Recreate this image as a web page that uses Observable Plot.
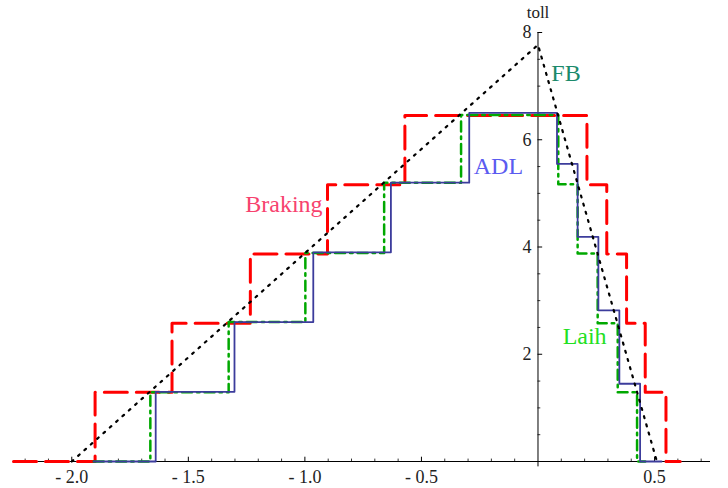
<!DOCTYPE html>
<html>
<head>
<meta charset="utf-8">
<script src="https://cdn.jsdelivr.net/npm/d3@7"></script>
<script src="https://cdn.jsdelivr.net/npm/@observablehq/plot@0.6"></script>
<style>
  html, body { margin: 0; padding: 0; background: #fff; }
</style>
</head>
<body>
<div id="chart"></div>
<script>
// ---- Data ----
// Step series: breakpoints (x) and level held between consecutive breakpoints (y)
const brakingEdges  = [-2.25, -1.90, -1.57, -1.234, -0.903, -0.571, 0.21, 0.295, 0.38, 0.46, 0.549, 0.61];
const brakingLevels = [0, 1.29, 2.58, 3.87, 5.16, 6.45, 5.16, 3.87, 2.58, 1.29, 0];

const laihEdges  = [-1.906, -1.663, -1.327, -0.998, -0.66, -0.33, 0.087, 0.17, 0.256, 0.342, 0.425, 0.46];
const laihLevels = [0, 1.29, 2.6, 3.89, 5.2, 6.46, 5.17, 3.88, 2.58, 1.29, 0];

const adlEdges  = [-1.906, -1.64, -1.302, -0.964, -0.631, -0.295, 0.0815, 0.170, 0.259, 0.349, 0.438, 0.53];
const adlLevels = [0, 1.3, 2.6, 3.9, 5.2, 6.5, 5.55, 4.19, 2.82, 1.45, 0];

// FB: dotted triangle
const fbX = [-2.0, 0, 0.51];
const fbY = [0, 7.77, 0];

// Axis ticks and labels
const xMajor = [-2.0, -1.5, -1.0, -0.5, 0.5];
const xMajorLabels = ["- 2.0", "- 1.5", "- 1.0", "- 0.5", "0.5"];
const xMinor = [-2.2, -2.1, -1.9, -1.8, -1.7, -1.6, -1.4, -1.3, -1.2, -1.1, -0.9, -0.8, -0.7, -0.6, -0.4, -0.3, -0.2, -0.1, 0.1, 0.2, 0.3, 0.4, 0.6, 0.7];
const yMajor = [2, 4, 6, 8];
const yMajorLabels = ["2", "4", "6", "8"];
const yMinor = [0.5, 1, 1.5, 2.5, 3, 3.5, 4.5, 5, 5.5, 6.5, 7, 7.5];

// Series labels
const seriesNames = ["FB", "ADL", "Braking", "Laih"];
const seriesLabelX = [0.12, -0.17, -1.09, 0.2];
const seriesLabelY = [7.23, 5.5, 4.8, 2.34];
const seriesLabelColors = ["#1b8a6b", "#5b5bf0", "#f7426e", "#22e022"];

// ---- Build tables ----
function steps(edges, levels) {
  const pts = levels.map((v, i) => ({x: edges[i], y: v}));
  pts.push({x: edges[edges.length - 1], y: levels[levels.length - 1]});
  return pts;
}
const braking = steps(brakingEdges, brakingLevels);
const laih = steps(laihEdges, laihLevels);
const adl = steps(adlEdges, adlLevels);
const fb = fbX.map((x, i) => ({x, y: fbY[i]}));
const labels = seriesNames.map((t, i) => ({t, x: seriesLabelX[i], y: seriesLabelY[i], c: seriesLabelColors[i]}));
const xTicks = xMajor.map((v, i) => ({v, label: xMajorLabels[i]}));
const yTicks = yMajor.map((v, i) => ({v, label: yMajorLabels[i]}));

const font = "Liberation Serif, Times New Roman, serif";

const chart = Plot.plot({
  width: 728,
  height: 488,
  marginLeft: 13,
  marginRight: 18,
  marginTop: 32,
  marginBottom: 27,
  x: {domain: [-2.25, 0.74], axis: null},
  y: {domain: [0, 8], axis: null},
  style: {fontFamily: font, background: "white", overflow: "visible"},
  marks: [
    // axes
    Plot.ruleY([0], {x1: -2.25, x2: 0.74, stroke: "black", strokeWidth: 1}),
    Plot.ruleX([0], {y1: -0.1, y2: 8, stroke: "black", strokeWidth: 1}),
    Plot.ruleX(xMajor, {y1: 0, y2: 0.08, stroke: "black", strokeWidth: 1}),
    Plot.ruleX(xMinor, {y1: 0, y2: 0.045, stroke: "black", strokeWidth: 0.8}),
    Plot.ruleY(yMajor, {x1: 0, x2: 0.02, stroke: "black", strokeWidth: 1}),
    Plot.ruleY(yMinor, {x1: 0, x2: 0.012, stroke: "black", strokeWidth: 0.8}),
    Plot.text(xTicks, {x: "v", y: 0, text: "label", dy: 16, fontSize: 18, fontFamily: font, fill: "#222"}),
    Plot.text(yTicks, {x: 0, y: "v", text: "label", dx: -11, textAnchor: "middle", fontSize: 18, fontFamily: font, fill: "#222"}),
    Plot.text(["toll"], {x: 0, y: 8, text: d => d, dy: -20, fontSize: 17, fontFamily: font, fill: "#222"}),
    // series
    Plot.line(braking, {x: "x", y: "y", curve: "step-after", stroke: "#ff0000", strokeWidth: 3, strokeDasharray: "23,9"}),
    Plot.line(laih, {x: "x", y: "y", curve: "step-after", stroke: "#00a800", strokeWidth: 2.5, strokeDasharray: "10,5,2.5,5"}),
    Plot.line(adl, {x: "x", y: "y", curve: "step-after", stroke: "#3c3c9c", strokeWidth: 1.8}),
    Plot.line(fb, {x: "x", y: "y", stroke: "black", strokeWidth: 2.2, strokeDasharray: "2,6.5"}),
    // series labels
    Plot.text(labels, {x: "x", y: "y", text: "t", fill: "c", fontSize: 24, fontFamily: font})
  ]
});
document.getElementById("chart").appendChild(chart);
</script>
</body>
</html>
